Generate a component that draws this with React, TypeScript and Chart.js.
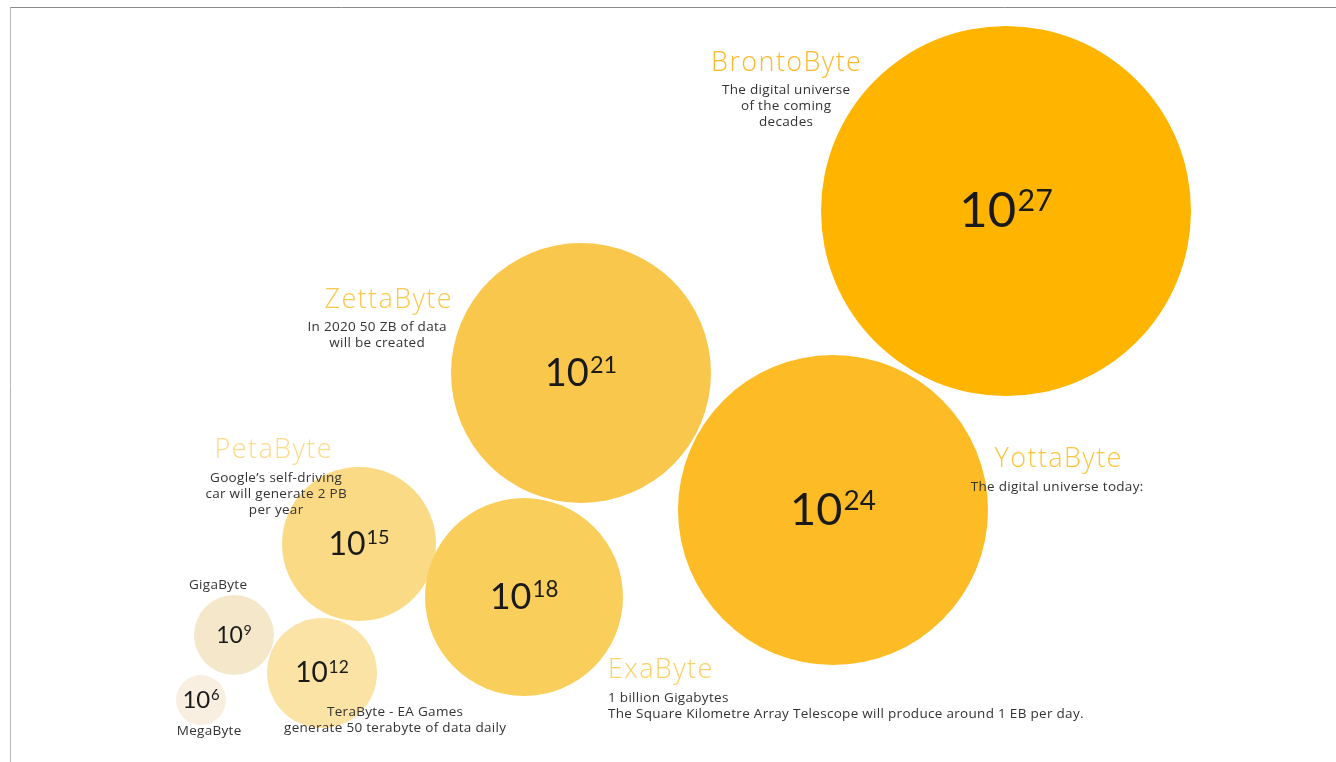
import React, { useEffect, useRef } from "react";
import { Chart, registerables } from "chart.js";

Chart.register(...registerables);

// ---- Data ----
const units = ["MegaByte", "GigaByte", "TeraByte", "PetaByte", "ExaByte", "ZettaByte", "YottaByte", "BrontoByte"];
const exponents = [6, 9, 12, 15, 18, 21, 24, 27];
const xValues = [201, 234, 322, 359, 524, 581, 833, 1006];
const yValues = [700, 635, 673, 544, 597, 373, 510, 211];
const radii = [25, 40, 55, 77, 99, 130, 155, 185];
const titles = ["", "", "", "PetaByte", "ExaByte", "ZettaByte", "YottaByte", "BrontoByte"];
const descriptions: string[][] = [
  ["MegaByte"],
  ["GigaByte"],
  ["TeraByte - EA Games", "generate 50 terabyte of data daily"],
  ["Google\u2019s self-driving", "car will generate 2 PB", "per year"],
  ["1 billion Gigabytes", "The Square Kilometre Array Telescope will produce around 1 EB per day."],
  ["In 2020 50 ZB of data", "will be created"],
  ["The digital universe today:"],
  ["The digital universe", "of the coming", "decades"],
];

// ---- Styles / layout (separate from data) ----
const bubbleColors = ["#F8EFE1", "#F5E8CA", "#FBE3A5", "#FBDA86", "#F9CE5B", "#F9C74B", "#FDBC25", "#FFB500"];
const titleColors = ["", "", "", "#FCDB8B", "#FBD068", "#FBC94F", "#FBC63F", "#FDB92E"];
const expFontSizes = [24, 23, 28, 32, 36, 38, 45, 49];
const titleFontSizes = [0, 0, 0, 27, 27, 27, 27, 27];
// label anchors in data units: [titleX, titleY, descX, descY, align]
const labelLayout: [number, number, number, number, CanvasTextAlign][] = [
  [0, 0, 209, 731, "center"],
  [0, 0, 218, 585, "center"],
  [0, 0, 395, 712, "center"],
  [273, 450, 276, 478, "center"],
  [608, 670, 608, 698, "left"],
  [388, 300, 377, 327, "center"],
  [1058, 459, 1057, 487, "center"],
  [786, 63, 786, 90, "center"],
];

const NUM_FONT = "Lato, 'Open Sans', sans-serif";
const TEXT_FONT = "'Open Sans', Lato, sans-serif";

const labelPlugin = {
  id: "labels",
  afterDatasetsDraw(chart: any) {
    const ctx: any = chart.ctx;
    const xs = chart.scales.x;
    const ys = chart.scales.y;
    ctx.save();
    // frame lines
    ctx.lineWidth = 1;
    ctx.strokeStyle = "#8a8a8a";
    ctx.beginPath();
    ctx.moveTo(10, 7.5);
    ctx.lineTo(chart.width, 7.5);
    ctx.stroke();
    ctx.strokeStyle = "#b5b5b5";
    ctx.beginPath();
    ctx.moveTo(10.5, 7);
    ctx.lineTo(10.5, chart.height);
    ctx.stroke();

    // exponent text inside bubbles
    const meta = chart.getDatasetMeta(0);
    meta.data.forEach((pt: any, i: number) => {
      const f = expFontSizes[i];
      const sf = f * 0.62;
      ctx.fillStyle = "#1a1a1a";
      ctx.textBaseline = "alphabetic";
      ctx.textAlign = "left";
      ctx.font = `400 ${f}px ${NUM_FONT}`;
      const baseW = ctx.measureText("10").width;
      ctx.font = `400 ${sf}px ${NUM_FONT}`;
      const supText = String(exponents[i]);
      const supW = ctx.measureText(supText).width;
      const gap = f * 0.03;
      const total = baseW + supW + gap;
      const x0 = pt.x - total / 2;
      const baseline = pt.y + 0.36 * f - f * 0.03;
      ctx.font = `400 ${f}px ${NUM_FONT}`;
      ctx.fillText("10", x0, baseline);
      ctx.font = `400 ${sf}px ${NUM_FONT}`;
      const supBaseline = baseline - 0.72 * f + 0.72 * sf - f * 0.05;
      ctx.fillText(supText, x0 + baseW + gap, supBaseline);
    });

    // titles and descriptions
    labelLayout.forEach((l, i) => {
      const [tx, ty, dx, dy, align] = l;
      ctx.textAlign = align;
      ctx.textBaseline = "middle";
      const shift = align === "center" ? 0.5 : 0;
      if (titles[i]) {
        ctx.font = `300 ${titleFontSizes[i]}px ${TEXT_FONT}`;
        ctx.letterSpacing = "1.4px";
        ctx.fillStyle = titleColors[i];
        ctx.fillText(titles[i], xs.getPixelForValue(tx) + 1.4 * shift, ys.getPixelForValue(ty));
      }
      ctx.font = `400 13.5px ${TEXT_FONT}`;
      ctx.letterSpacing = "0.3px";
      ctx.fillStyle = "#333333";
      descriptions[i].forEach((line, j) => {
        ctx.fillText(line, xs.getPixelForValue(dx) + 0.3 * shift, ys.getPixelForValue(dy + j * 16));
      });
      ctx.letterSpacing = "0px";
    });
    ctx.restore();
  },
};

export default function App() {
  const ref = useRef<HTMLCanvasElement | null>(null);
  useEffect(() => {
    if (!ref.current) return;
    const chart = new Chart(ref.current, {
      type: "bubble",
      data: {
        datasets: [
          {
            label: "Data units",
            data: units.map((_, i) => ({ x: xValues[i], y: yValues[i], r: radii[i] })),
            backgroundColor: bubbleColors,
            borderWidth: 0,
            hoverBorderWidth: 0,
          },
        ],
      },
      options: {
        responsive: false,
        animation: false,
        layout: { padding: 0, autoPadding: false },
        plugins: { legend: { display: false }, tooltip: { enabled: false } },
        scales: {
          x: { type: "linear", min: 0, max: 1336, display: false },
          y: { type: "linear", min: 0, max: 762, reverse: true, display: false },
        },
        clip: false as any,
      },
      plugins: [labelPlugin],
    });
    return () => chart.destroy();
  }, []);
  return (
    <div style={{ position: "fixed", left: 0, top: 0, width: 1336, height: 762, background: "#fff" }}>
      <canvas ref={ref} width={1336} height={762} style={{ display: "block" }} />
    </div>
  );
}
